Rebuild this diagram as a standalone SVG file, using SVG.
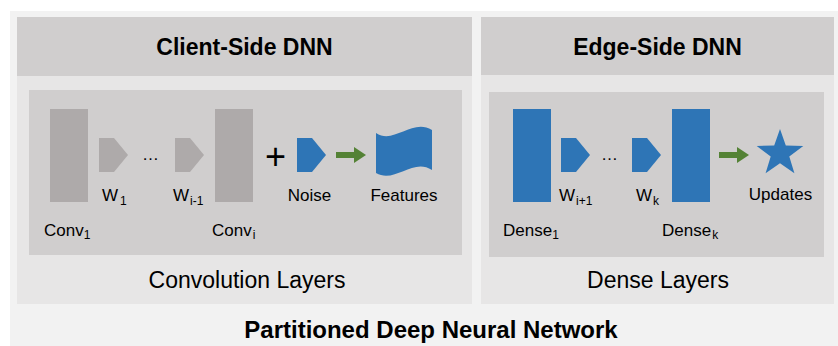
<svg xmlns="http://www.w3.org/2000/svg" width="838" height="346" viewBox="0 0 838 346">
<style>
text{font-family:"Liberation Sans",Arial,sans-serif;fill:#000}
.title{font-size:23px;font-weight:bold;text-anchor:middle}
.cap{font-size:24px;font-weight:bold;text-anchor:middle}
.sec{font-size:23px;text-anchor:middle}
.lbl{font-size:17px}
.sub{font-size:12px}
.hdr{fill:#d0cece}
.panel{fill:#e7e6e6}
.inner{fill:#d0cece}
.gray{fill:#aeaaaa}
.blue{fill:#2e75b6}
.green{fill:#548235}
</style>
<defs>
<polygon id="pent" points="0,0 15,0 29,17 15,34 0,34"/>
<polygon id="arrow" points="0,5 18,5 18,0 30,8 18,16 18,11 0,11"/>
</defs>
<rect x="10" y="11" width="828" height="335" fill="#f2f2f2"/>

<g id="client-panel">
<rect class="panel" x="17" y="17" width="455" height="287"/>
<rect class="hdr" x="17" y="17" width="455" height="59"/>
<text class="title" x="244.5" y="55">Client-Side DNN</text>
<rect class="inner" x="29" y="90" width="433" height="165"/>
<text class="sec" x="247" y="288">Convolution Layers</text>
</g>

<g id="edge-panel">
<rect class="panel" x="481" y="17" width="353" height="287"/>
<rect class="hdr" x="481" y="17" width="353" height="58"/>
<text class="title" x="657.5" y="55">Edge-Side DNN</text>
<rect class="inner" x="489" y="92" width="335" height="165"/>
<text class="sec" x="658" y="288">Dense Layers</text>
</g>

<g id="conv1">
<rect class="gray" x="50" y="109" width="38" height="93"/>
<text class="lbl" x="44" y="236">Conv<tspan class="sub" dy="3">1</tspan></text>
</g>
<g id="w1">
<use href="#pent" class="gray" x="99" y="138"/>
<text class="lbl" x="102" y="201">W<tspan class="sub" dx="2" dy="4">1</tspan></text>
</g>
<g id="dots-left"><text class="lbl" x="150.5" y="160" text-anchor="middle">…</text></g>
<g id="wi-1">
<use href="#pent" class="gray" x="175" y="138"/>
<text class="lbl" x="173" y="201">W<tspan class="sub" dx="1" dy="4">i-1</tspan></text>
</g>
<g id="convi">
<rect class="gray" x="215" y="109" width="38" height="93"/>
<text class="lbl" x="212" y="236">Conv<tspan class="sub" dx="1" dy="3">i</tspan></text>
</g>
<g id="plus"><text x="275.5" y="169" font-size="36" text-anchor="middle">+</text></g>
<g id="noise">
<use href="#pent" class="blue" x="297" y="138"/>
<text class="lbl" x="309.5" y="201" text-anchor="middle">Noise</text>
</g>
<g id="features">
<path class="blue" d="M376,133 C394,145 412,118 432,130 L432,170 C413,157 395,184 376,173 Z"/>
<text class="lbl" x="404" y="201" text-anchor="middle">Features</text>
</g>

<g id="dense1">
<rect class="blue" x="513" y="109" width="38" height="93"/>
<text class="lbl" x="503" y="236">Dense<tspan class="sub" dy="3">1</tspan></text>
</g>
<g id="wi+1">
<use href="#pent" class="blue" x="561" y="138"/>
<text class="lbl" x="559" y="201">W<tspan class="sub" dx="1" dy="4">i+1</tspan></text>
</g>
<g id="dots-right"><text class="lbl" x="609.5" y="160" text-anchor="middle">…</text></g>
<g id="wk">
<use href="#pent" class="blue" x="632" y="138"/>
<text class="lbl" x="636" y="201">W<tspan class="sub" dx="1" dy="4">k</tspan></text>
</g>
<g id="densek">
<rect class="blue" x="672" y="109" width="38" height="93"/>
<text class="lbl" x="662" y="236">Dense<tspan class="sub" dx="1" dy="3">k</tspan></text>
</g>
<g id="updates">
<polygon class="blue" points="780,129 785.8,145.6 803.3,145.9 789.3,156.5 794.4,173.3 780,163.3 765.6,173.3 770.7,156.5 756.7,145.9 774.2,145.6"/>
<text class="lbl" x="780.5" y="200" text-anchor="middle">Updates</text>
</g>

<g id="connectors">
<use href="#arrow" class="green" x="336" y="147"/>
<use href="#arrow" class="green" x="719" y="147"/>
</g>

<g id="caption"><text class="cap" x="431" y="338">Partitioned Deep Neural Network</text></g>
</svg>
